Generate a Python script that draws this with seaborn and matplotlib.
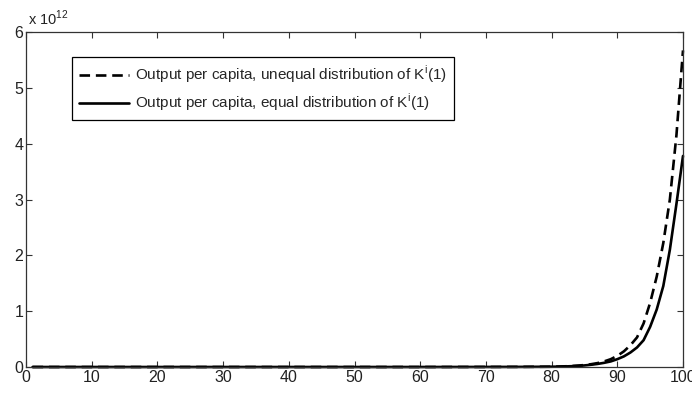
import matplotlib
matplotlib.use("Agg")
import matplotlib.pyplot as plt
import seaborn as sns
import pandas as pd

# Period index (t) and output per capita, in units of 10^12
periods = [1, 20, 40, 60, 70, 75, 80, 81, 82, 83, 84, 85, 86, 87, 88, 89, 90,
           91, 92, 93, 94, 95, 96, 97, 98, 99, 100]
output_unequal = [0.0, 0.0, 0.0, 0.0, 0.001, 0.002, 0.005, 0.008, 0.012, 0.017,
                  0.025, 0.035, 0.05, 0.07, 0.10, 0.14, 0.20, 0.28, 0.39, 0.53,
                  0.78, 1.15, 1.62, 2.22, 3.0, 4.15, 5.67]
output_equal = [0.0, 0.0, 0.0, 0.0, 0.001, 0.002, 0.005, 0.007, 0.010, 0.014,
                0.020, 0.028, 0.04, 0.055, 0.075, 0.10, 0.14, 0.19, 0.26, 0.35,
                0.48, 0.72, 1.03, 1.45, 2.1, 2.92, 3.78]
series_names = ["Output per capita, unequal distribution of K$^{\\mathregular{i}}$(1)",
                "Output per capita, equal distribution of K$^{\\mathregular{i}}$(1)"]
x_ticks = [0, 10, 20, 30, 40, 50, 60, 70, 80, 90, 100]
y_ticks = [0, 1, 2, 3, 4, 5, 6]

df = pd.concat([
    pd.DataFrame({"t": periods, "y": output_unequal, "series": series_names[0]}),
    pd.DataFrame({"t": periods, "y": output_equal, "series": series_names[1]}),
])

sns.set_style("white")
plt.rcParams["font.family"] = ["Liberation Sans", "DejaVu Sans"]
plt.rcParams["mathtext.fontset"] = "custom"
plt.rcParams["mathtext.rm"] = "Liberation Sans"

fig = plt.figure(figsize=(6.92, 3.96), dpi=100)
ax = fig.add_axes([26 / 692, 1 - 367 / 396, 657 / 692, 335 / 396])

sns.lineplot(data=df, x="t", y="y", hue="series", style="series",
             palette=["black", "black"],
             dashes={series_names[0]: (4, 2.2), series_names[1]: ""},
             linewidth=1.9, ax=ax, legend=True, sort=False, clip_on=False)

ax.set_xlim(0, 100)
ax.set_ylim(0, 6)
ax.set_xticks(x_ticks)
ax.set_yticks(y_ticks)
ax.set_xlabel("")
ax.set_ylabel("")
for s in ax.spines.values():
    s.set_color("#333333")
    s.set_linewidth(0.9)
ax.tick_params(direction="in", length=4, width=0.8, colors="#333333",
               top=True, right=True, bottom=True, left=True,
               labelsize=11.5, pad=2)
for lab in ax.get_xticklabels() + ax.get_yticklabels():
    lab.set_color("#222222")

ax.text(0.003, 1.012, "x 10$^{12}$", transform=ax.transAxes, fontsize=10.5,
        ha="left", va="bottom", color="#222222")

handles, labels = ax.get_legend_handles_labels()
leg = ax.legend(handles, labels, loc="upper left",
                bbox_to_anchor=(72 / 692, 1 - 57 / 396),
                bbox_transform=fig.transFigure, borderaxespad=0,
                frameon=True, fancybox=False, framealpha=1,
                fontsize=11, handlelength=3.3, handletextpad=0.4,
                borderpad=0.45, labelspacing=0.4)
leg.get_frame().set_edgecolor("black")
leg.get_frame().set_linewidth(0.9)
for line in leg.get_lines():
    line.set_linewidth(1.9)

fig.savefig("out.png", dpi=100)
